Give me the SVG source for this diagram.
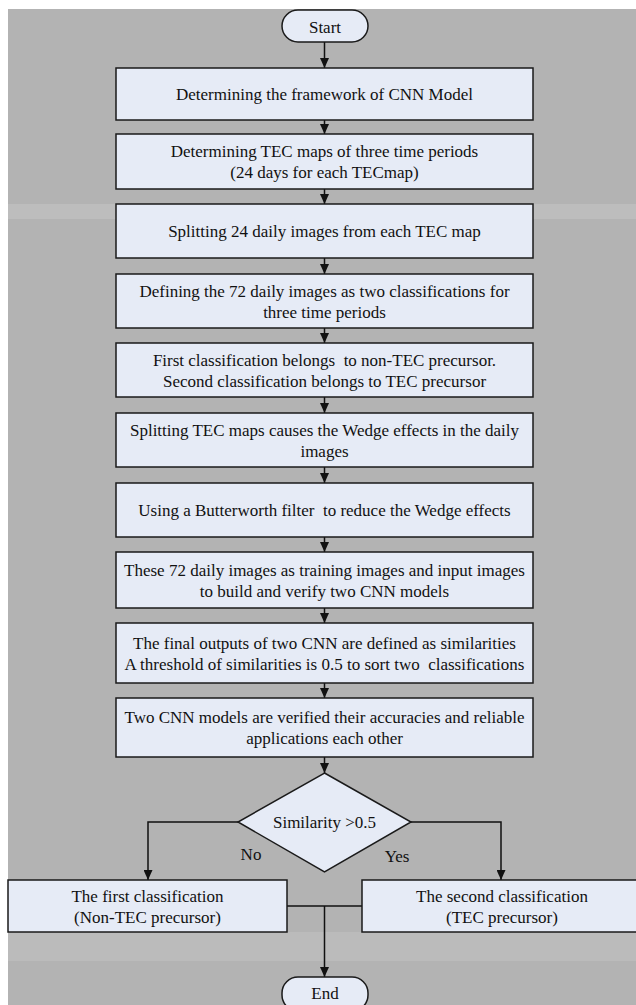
<svg xmlns="http://www.w3.org/2000/svg" width="636" height="1005" viewBox="0 0 636 1005">
<defs>
<marker id="arr" markerWidth="10" markerHeight="9" refX="10" refY="4.5" orient="auto" markerUnits="userSpaceOnUse">
<path d="M0,0 L10,4.5 L0,9 z" fill="#111"/>
</marker>
<style>
.bx{fill:#e6ebf6;stroke:#1a1a1a;stroke-width:1.5}
.t{font-size:17px;fill:#111;text-anchor:middle;white-space:pre}
.c{fill:none;stroke:#111;stroke-width:1.5}
</style>
</defs>
<rect x="0" y="0" width="636" height="1005" fill="#ffffff"/>
<rect x="8" y="9" width="628" height="996" fill="#b3b3b3"/>
<rect x="8" y="204" width="628" height="15" fill="#bdbdbd"/>
<rect x="8" y="932" width="628" height="29" fill="#bbbbbb"/>

<g id="connectors">
<line class="c" x1="324.5" y1="42" x2="324.5" y2="68" marker-end="url(#arr)"/>
<line class="c" x1="324.5" y1="120" x2="324.5" y2="134" marker-end="url(#arr)"/>
<line class="c" x1="324.5" y1="189" x2="324.5" y2="204" marker-end="url(#arr)"/>
<line class="c" x1="324.5" y1="258" x2="324.5" y2="274" marker-end="url(#arr)"/>
<line class="c" x1="324.5" y1="328" x2="324.5" y2="343" marker-end="url(#arr)"/>
<line class="c" x1="324.5" y1="397" x2="324.5" y2="413" marker-end="url(#arr)"/>
<line class="c" x1="324.5" y1="467" x2="324.5" y2="483" marker-end="url(#arr)"/>
<line class="c" x1="324.5" y1="537" x2="324.5" y2="552" marker-end="url(#arr)"/>
<line class="c" x1="324.5" y1="608" x2="324.5" y2="623" marker-end="url(#arr)"/>
<line class="c" x1="324.5" y1="683" x2="324.5" y2="698" marker-end="url(#arr)"/>
<line class="c" x1="324.5" y1="757" x2="324.5" y2="773" marker-end="url(#arr)"/>
<polyline class="c" points="238,822 148,822 148,880" marker-end="url(#arr)"/>
<polyline class="c" points="411,822 501,822 501,880" marker-end="url(#arr)"/>
<line class="c" x1="287" y1="906" x2="362" y2="906"/>
<line class="c" x1="324.5" y1="906" x2="324.5" y2="977" marker-end="url(#arr)"/>
</g>

<g font-family="Liberation Serif, Tinos, Times New Roman, serif">
<g id="start">
<rect class="bx" x="282" y="10" width="86" height="32" rx="16" ry="16"/>
<text class="t" x="325" y="33">Start</text>
</g>
<g id="n1">
<rect class="bx" x="116" y="68" width="417" height="52"/>
<text class="t" x="324.5" y="100">Determining the framework of CNN Model</text>
</g>
<g id="n2">
<rect class="bx" x="116" y="134" width="417" height="55"/>
<text class="t" x="324.5" y="157">Determining TEC maps of three time periods</text>
<text class="t" x="324.5" y="178">(24 days for each TECmap)</text>
</g>
<g id="n3">
<rect class="bx" x="116" y="204" width="417" height="54"/>
<text class="t" x="324.5" y="237">Splitting 24 daily images from each TEC map</text>
</g>
<g id="n4">
<rect class="bx" x="116" y="274" width="417" height="54"/>
<text class="t" x="324.5" y="296.5">Defining the 72 daily images as two classifications for</text>
<text class="t" x="324.5" y="317.5">three time periods</text>
</g>
<g id="n5">
<rect class="bx" x="116" y="343" width="417" height="54"/>
<text class="t" x="324.5" y="365.5">First classification belongs  to non-TEC precursor.</text>
<text class="t" x="324.5" y="386.5">Second classification belongs to TEC precursor</text>
</g>
<g id="n6">
<rect class="bx" x="116" y="413" width="417" height="54"/>
<text class="t" x="324.5" y="435.5">Splitting TEC maps causes the Wedge effects in the daily</text>
<text class="t" x="324.5" y="456.5">images</text>
</g>
<g id="n7">
<rect class="bx" x="116" y="483" width="417" height="54"/>
<text class="t" x="324.5" y="516">Using a Butterworth filter  to reduce the Wedge effects</text>
</g>
<g id="n8">
<rect class="bx" x="116" y="552" width="417" height="56"/>
<text class="t" x="324.5" y="575.5">These 72 daily images as training images and input images</text>
<text class="t" x="324.5" y="596.5">to build and verify two CNN models</text>
</g>
<g id="n9">
<rect class="bx" x="116" y="623" width="417" height="60"/>
<text class="t" x="324.5" y="648.5">The final outputs of two CNN are defined as similarities</text>
<text class="t" x="324.5" y="669.5">A threshold of similarities is 0.5 to sort two  classifications</text>
</g>
<g id="n10">
<rect class="bx" x="116" y="698" width="417" height="59"/>
<text class="t" x="324.5" y="722.5">Two CNN models are verified their accuracies and reliable</text>
<text class="t" x="324.5" y="743.5">applications each other</text>
</g>
<g id="decision">
<polygon class="bx" points="324.5,773 411,822 324.5,872 238,822"/>
<text class="t" x="324.5" y="828">Similarity &gt;0.5</text>
</g>
<g id="labels">
<text class="t" x="251" y="860">No</text>
<text class="t" x="397" y="862">Yes</text>
</g>
<g id="left">
<rect class="bx" x="8" y="880" width="279" height="52"/>
<text class="t" x="147.5" y="901.5">The first classification</text>
<text class="t" x="147.5" y="922.5">(Non-TEC precursor)</text>
</g>
<g id="right">
<rect class="bx" x="362" y="880" width="280" height="52"/>
<text class="t" x="502" y="901.5">The second classification</text>
<text class="t" x="502" y="922.5">(TEC precursor)</text>
</g>
<g id="end">
<rect class="bx" x="282" y="977" width="86" height="34" rx="16" ry="16"/>
<text class="t" x="325" y="999">End</text>
</g>
</g>
</svg>
